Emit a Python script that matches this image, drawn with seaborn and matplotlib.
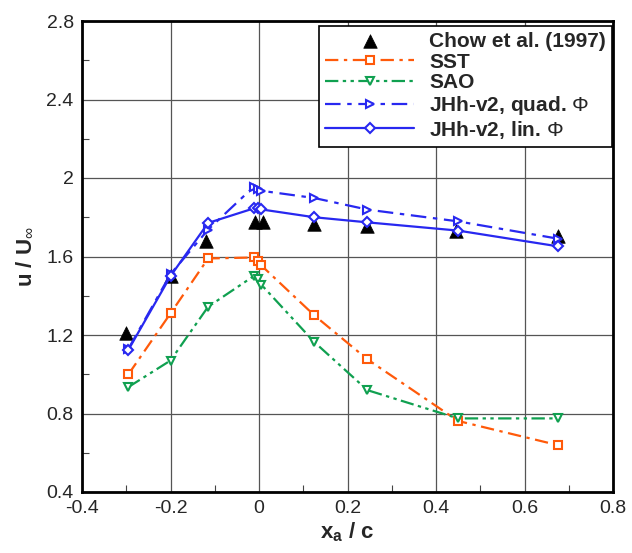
import matplotlib
matplotlib.use("Agg")
import matplotlib.pyplot as plt
import seaborn as sns
import pandas as pd
from matplotlib.ticker import MultipleLocator

# ---- data ----
chow_x = [-0.30, -0.20, -0.12, -0.01, 0.01, 0.125, 0.245, 0.445, 0.675]
chow_y = [1.21, 1.50, 1.68, 1.775, 1.775, 1.768, 1.757, 1.728, 1.703]

model_x = [-0.295, -0.20, -0.115, -0.012, -0.002, 0.005, 0.125, 0.245, 0.45, 0.675]
sst_y = [1.00, 1.31, 1.59, 1.595, 1.577, 1.555, 1.30, 1.076, 0.762, 0.639]
sao_y = [0.935, 1.07, 1.344, 1.50, 1.483, 1.457, 1.164, 0.919, 0.775, 0.775]
quad_y = [1.13, 1.51, 1.737, 1.955, 1.945, 1.935, 1.898, 1.839, 1.779, 1.691]
lin_y = [1.125, 1.50, 1.771, 1.845, 1.845, 1.84, 1.80, 1.774, 1.732, 1.652]

labels = ["Chow et al. (1997)", "SST", "SAO",
          r"JHh-v2, quad. $\mathrm{\Phi}$", r"JHh-v2, lin. $\mathrm{\Phi}$"]

xticks = [-0.4, -0.2, 0, 0.2, 0.4, 0.6, 0.8]
yticks = [0.4, 0.8, 1.2, 1.6, 2, 2.4, 2.8]

sns.set_style("ticks")
plt.rcParams["font.family"] = ["Liberation Sans", "DejaVu Sans"]
plt.rcParams["mathtext.fontset"] = "custom"
plt.rcParams["mathtext.rm"] = "Liberation Sans"
plt.rcParams["mathtext.bf"] = "Liberation Sans:bold"
plt.rcParams["mathtext.it"] = "Liberation Sans:italic"

fig = plt.figure(figsize=(6.32, 5.53), dpi=100)
ax = fig.add_axes([82 / 632, 1 - 492 / 553, (613 - 82) / 632, (492 - 21) / 553])

orange = "#FF5A0A"
green = "#10A050"
blue = "#2828F0"

sns.scatterplot(x=chow_x, y=chow_y, ax=ax, marker="^", s=95, color="black",
                edgecolor="black", linewidth=0.5, label=labels[0], zorder=3)

series = [
    (sst_y, labels[1], orange, "s", (0, (6, 2.5, 1.5, 2.5)), 5.5),
    (sao_y, labels[2], green, "v", (0, (6, 2, 1.5, 2, 1.5, 2)), 6),
    (quad_y, labels[3], blue, ">", (0, (7, 3, 2, 3)), 6),
    (lin_y, labels[4], blue, "D", "-", 5),
]
for ys, lab, col, mk, ls, ms in series:
    df = pd.DataFrame({"x": model_x, "y": ys})
    sns.lineplot(data=df, x="x", y="y", ax=ax, sort=False, color=col,
                 marker=mk, markersize=ms, markerfacecolor="white",
                 markeredgecolor=col, markeredgewidth=1.5, linestyle=ls,
                 linewidth=1.6, label=lab, zorder=4)

ax.set_xlim(-0.4, 0.8)
ax.set_ylim(0.4, 2.8)
ax.set_xticks(xticks)
ax.set_yticks(yticks)
ax.set_xticklabels(["-0.4", "-0.2", "0", "0.2", "0.4", "0.6", "0.8"])
ax.set_yticklabels(["0.4", "0.8", "1.2", "1.6", "2", "2.4", "2.8"])
ax.xaxis.set_minor_locator(MultipleLocator(0.1))
ax.yaxis.set_minor_locator(MultipleLocator(0.2))
ax.tick_params(which="major", length=0, labelsize=14, pad=6)
ax.tick_params(which="minor", direction="in", length=5, width=0.8, color="#444444")
ax.grid(True, which="major", color="#555555", linewidth=0.9)
for sp in ax.spines.values():
    sp.set_visible(True)
    sp.set_linewidth(2)
    sp.set_color("black")

ax.set_xlabel(r"x$_\mathbf{a}$ / c", fontsize=16, fontweight="bold", labelpad=2)
ax.set_ylabel(r"u / U$_\infty$", fontsize=16, fontweight="bold", labelpad=8)

leg = ax.legend(loc="upper right", bbox_to_anchor=(0.998, 0.99), frameon=True,
                fancybox=False, framealpha=1, edgecolor="black",
                prop={"weight": "bold", "size": 15}, handlelength=4.3,
                handletextpad=0.7, borderpad=0.3, labelspacing=0.08,
                borderaxespad=0.0)
leg.get_frame().set_linewidth(1.2)

fig.savefig("out.png", dpi=100)
